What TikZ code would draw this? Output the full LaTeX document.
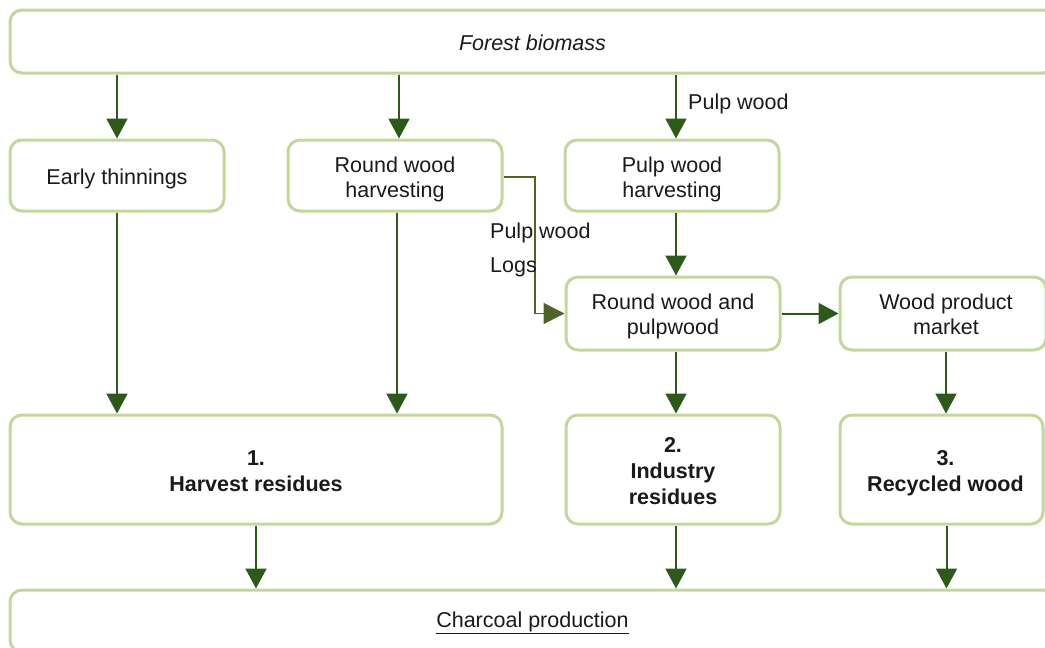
\documentclass[tikz,border=0pt]{standalone}
\usepackage{fontspec}
\setmainfont{Liberation Sans}
\usetikzlibrary{arrows.meta,calc}
\definecolor{boxline}{HTML}{C3D69B}
\definecolor{arrdark}{HTML}{2D5A1B}
\definecolor{arrolive}{HTML}{4F6228}
\definecolor{txt}{HTML}{1A1A1A}
\newcommand\mltext[2][0pt]{\raisebox{-#1}[\height][\depth]{\begin{tabular}{@{}c@{}}#2\end{tabular}}}
\tikzset{
  box/.style={draw=boxline, line width=3pt, rounded corners=12pt, fill=white,
    inner sep=0pt, align=center, text=txt, font=\fontsize{21.5}{25}\selectfont},
  bbox/.style={box, font=\fontsize{21.5}{26}\selectfont\bfseries},
  arr/.style={draw=arrdark, line width=2pt, -{Triangle[width=21pt,length=20pt]}},
  arrb/.style={draw=arrolive, line width=1.6pt, -{Triangle[width=21pt,length=21pt]}},
  lbl/.style={anchor=west, inner sep=0pt, text=txt, font=\fontsize{21.5}{24}\selectfont}
}
\begin{document}
\begin{tikzpicture}[x=1pt,y=-1pt]
\useasboundingbox (0,0) rectangle (1045,648);
\clip (0,0) rectangle (1045,648);
\node[box, minimum width=1045pt, minimum height=63pt] (forest) at (532.5,41.5) {\mltext[4pt]{\itshape Forest biomass}};
\node[box, minimum width=214pt, minimum height=71pt] (thin) at (117,175.5) {\mltext[4pt]{Early thinnings}};
\node[box, minimum width=214pt, minimum height=71pt] (rwh) at (395,175.5) {\mltext[4pt]{Round wood\\harvesting}};
\node[box, minimum width=214pt, minimum height=71pt] (pwh) at (672,175.5) {\mltext[4pt]{Pulp wood\\harvesting}};
\node[box, minimum width=214pt, minimum height=73pt] (rp) at (673,313.5) {\mltext[3pt]{Round wood and\\pulpwood}};
\node[box, minimum width=206pt, minimum height=73pt] (wpm) at (943,313.5) {\mltext[3pt]{\hspace*{6pt}Wood product\\\hspace*{6pt}market}};
\node[bbox, minimum width=492pt, minimum height=109pt] (hr) at (256,469.5) {\mltext[4pt]{1.\\Harvest residues}};
\node[bbox, minimum width=214pt, minimum height=109pt] (ir) at (673,469.5) {\mltext[3.5pt]{2.\\Industry\\residues}};
\node[bbox, minimum width=203pt, minimum height=109pt] (rw) at (941.5,469.5) {\mltext[4pt]{\hspace*{8pt}3.\\\hspace*{8pt}Recycled wood}};
\node[box, minimum width=1045pt, minimum height=62pt] (char) at (532.5,621) {\mltext[1pt]{\underline{Charcoal production}}};

% arrows from forest
\draw[arr] (forest.south -| thin.north) -- (thin.north);
\draw[arr] ($(forest.south -| rwh.north)+(4,0)$) -- ($(rwh.north)+(4,0)$);
\draw[arr] ($(forest.south -| pwh.north)+(4,0)$) -- ($(pwh.north)+(4,0)$);
\node[lbl] (lpw1) at (688,103.5) {Pulp wood};

% to harvest residues
\draw[arr] (thin.south) -- (thin.south |- hr.north);
\draw[arr] ($(rwh.south)+(2,0)$) -- ($(rwh.south |- hr.north)+(2,0)$);

% pulp wood harvesting to round wood and pulpwood
\draw[arr] ($(pwh.south)+(4,0)$) -- ($(pwh.south |- rp.north)+(4,0)$);

% elbow connector
\coordinate (bend) at (535,177);
\draw[arrb] ($(rwh.east)+(0,1.5)$) -- (bend) |- (rp.west);
\node[lbl] (lpw2) at (490,232.5) {Pulp wood};
\node[lbl] (llogs) at (490,267.5) {Logs};

% round wood and pulpwood
\draw[arr] (rp.east) -- (wpm.west);
\draw[arr] ($(rp.south)+(3,0)$) -- ($(rp.south |- ir.north)+(3,0)$);
\draw[arr] ($(wpm.south)+(3,0)$) -- ($(wpm.south |- rw.north)+(3,0)$);

% to charcoal
\draw[arr] (hr.south) -- (hr.south |- char.north);
\draw[arr] ($(ir.south)+(3,0)$) -- ($(ir.south |- char.north)+(3,0)$);
\draw[arr] ($(rw.south)+(5,0)$) -- ($(rw.south |- char.north)+(5,0)$);
\end{tikzpicture}
\end{document}
